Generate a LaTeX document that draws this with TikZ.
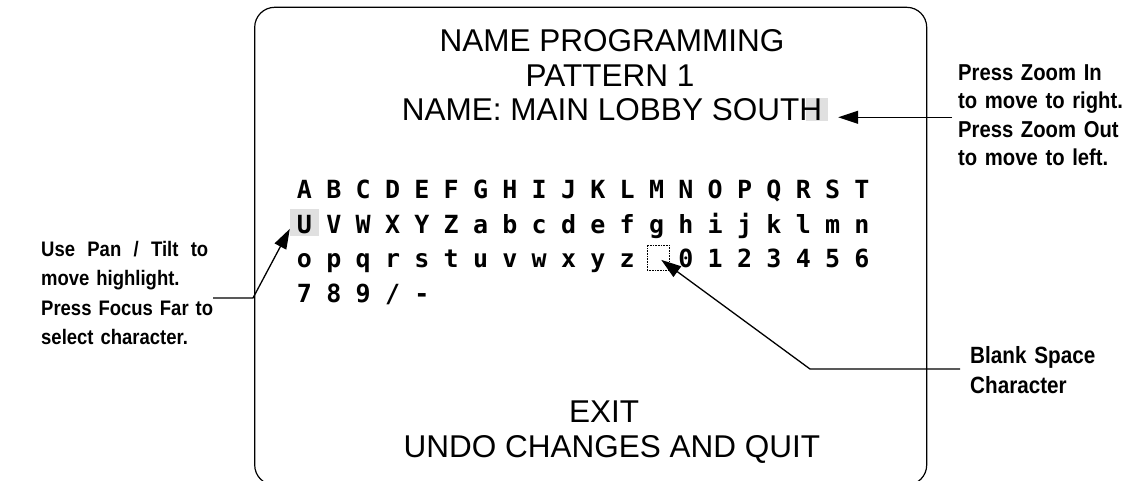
\documentclass[tikz,border=0pt]{standalone}
\usepackage{fontspec}
\setmainfont{Liberation Sans}
\newfontfamily\gridfont{DejaVu Sans Mono}
\newfontfamily\notefont{Liberation Sans}[FakeStretch=0.88]
\usetikzlibrary{arrows.meta}
\definecolor{hlgray}{HTML}{E0E0E0}

\tikzset{
  screen/.style={font=\fontsize{31.5}{34.5}\selectfont, anchor=base, inner sep=0pt},
  gridchar/.style={font=\gridfont\bfseries\fontsize{25}{25}\selectfont, anchor=base, inner sep=0pt},
  note/.style={font=\notefont\bfseries\fontsize{21}{29.5}\selectfont, anchor=base west, inner sep=0pt, align=left},
  pointer/.style={line width=1.3pt, -{Triangle[length=20pt,width=13pt]}},
  cellhl/.style={fill=hlgray, inner sep=0pt},
}

\begin{document}
\begin{tikzpicture}[x=1pt,y=-1pt]
  \useasboundingbox (0,0) rectangle (1134,480);
  % monitor screen
  \draw[line width=1.2pt,rounded corners=20pt] (254.7,7.3) rectangle (926.7,485);
  % highlights and the blank cell
  \node[cellhl,minimum width=22pt,minimum height=23pt] (hlH) at (817,109.5) {};
  \node[cellhl,minimum width=29pt,minimum height=27pt] (hlU) at (304.5,222) {};
  \node[draw,densely dotted,line width=.6pt,minimum width=22pt,minimum height=25pt,inner sep=0pt] (blank) at (658,257.5) {};
  % screen text
  \node[screen] (title)   at (612,51)  {NAME PROGRAMMING};
  \node[screen] (pattern) at (610,86)  {PATTERN 1};
  \node[screen] (name)    at (612,120) {NAME: MAIN LOBBY SOUTH};
  \node[screen] (exit)    at (604,422) {EXIT};
  \node[screen] (undo)    at (612,457) {UNDO CHANGES AND QUIT};
  % character table
  \foreach \row [count=\r from 0] in {{A,B,C,D,E,F,G,H,I,J,K,L,M,N,O,P,Q,R,S,T},%
      {U,V,W,X,Y,Z,a,b,c,d,e,f,g,h,i,j,k,l,m,n},%
      {o,p,q,r,s,t,u,v,w,x,y,z,{},0,1,2,3,4,5,6},{7,8,9,/,-}}
    \foreach \ch [count=\c from 0] in \row
      \node[gridchar] (g\r-\c) at ({304.5+29.34*\c},{198.5+34.5*\r}) {\ch};
  % notes round the screen
  \node[note,text width=175pt] (panNote) at (41,256)
    {\hbox to 167pt{Use\hfill Pan\hfill /\hfill Tilt\hfill to}\\move highlight.\\Press Focus Far to\\select character.};
  \node[note,text width=176pt,font=\notefont\bfseries\fontsize{23}{28.5}\selectfont] (zoomNote) at (958,80)
    {Press Zoom In\\to move to right.\\Press Zoom Out\\to move to left.};
  \node[note,text width=160pt,font=\notefont\bfseries\fontsize{23.5}{30}\selectfont] (blankNote) at (970,363)
    {Blank Space\\Character};
  % pointers
  \coordinate (zFoot)   at (952,117.3);
  \coordinate (panFoot) at (213,298);
  \coordinate (panKnee) at (253,298);
  \coordinate (bsFoot)  at (960,369);
  \coordinate (bsKnee)  at (810,369);
  \draw[pointer,shorten >=10pt] (zFoot) -- (zFoot -| hlH.east);
  \draw[pointer] (panFoot) -- (panKnee) -- (hlU.205);
  \draw[pointer,shorten >=4pt] (bsFoot) -- (bsKnee) -- (blank.center);
\end{tikzpicture}
\end{document}
